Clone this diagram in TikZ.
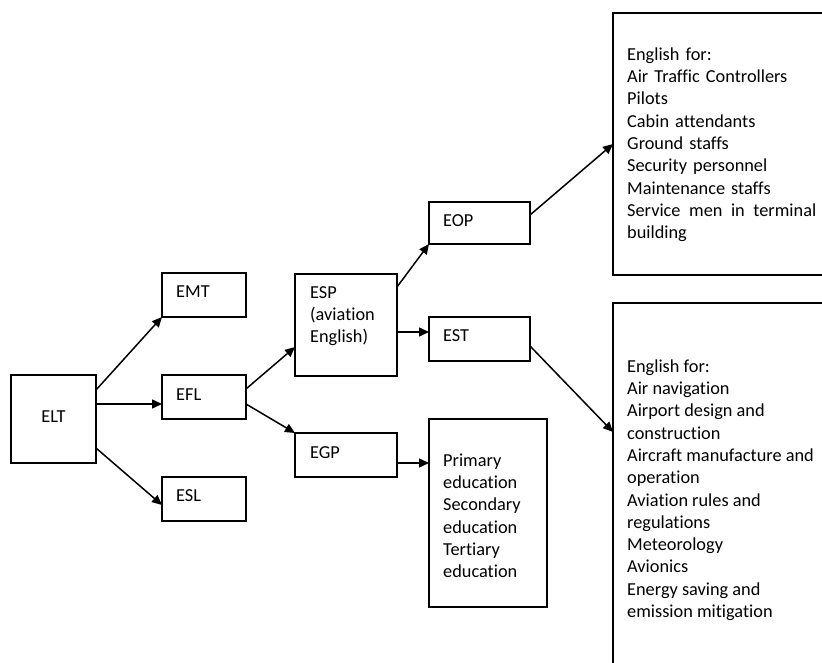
\documentclass[tikz,border=0pt]{standalone}
\usepackage{fontspec}
\setmainfont{Carlito}[Ligatures=NoCommon]
\usetikzlibrary{arrows.meta,calc}
\newcommand\dfs{\fontsize{18.3}{22.3}\selectfont}
\begin{document}
\begin{tikzpicture}[x=1pt,y=-1pt,
  box/.style={draw, line width=1.5pt, inner sep=0pt, outer sep=0pt, rectangle},
  lbl/.style={anchor=base west, inner sep=0pt, font=\dfs},
  mlbl/.style={anchor=north west, inner sep=0pt, align=left, font=\dfs},
  arr/.style={line width=1.5pt, -{Triangle[length=10pt,width=9pt]}}]
\useasboundingbox (0,0) rectangle (822,663);
\clip (0,0) rectangle (822,663);
% boxes
\node[box, minimum width=85, minimum height=88] (elt) at (53.5,419) {};
\node[box, minimum width=84, minimum height=44] (emt) at (204,295) {};
\node[box, minimum width=84, minimum height=44] (efl) at (204,397) {};
\node[box, minimum width=84, minimum height=44] (esl) at (204,499) {};
\node[box, minimum width=102, minimum height=102] (esp) at (346,325) {};
\node[box, minimum width=102, minimum height=44] (egp) at (346,455) {};
\node[box, minimum width=101, minimum height=42] (eop) at (479.5,223) {};
\node[box, minimum width=101, minimum height=44] (est) at (479.5,339) {};
\node[box, minimum width=118, minimum height=188] (prim) at (488,513) {};
\node[box, minimum width=217, minimum height=262] (ur) at (721.5,144) {};
\node[box, minimum width=217, minimum height=377] (lr) at (721.5,491.5) {};
% texts
\node[font=\dfs, anchor=base, inner sep=0pt] (eltt) at (53.5,422.3) {ELT};
\node[lbl] (emtt) at (176,298) {EMT};
\node[lbl] (eflt) at (176,400) {EFL};
\node[lbl] (eslt) at (176,501) {ESL};
\node[mlbl] (espt) at (310,282.4) {\strut ESP\\(aviation\\English)};
\node[lbl] (egpt) at (310,458) {EGP};
\node[lbl] (eopt) at (443,226) {EOP};
\node[lbl] (estt) at (443,341.5) {EST};
\node[mlbl] (primt) at (443,450.4) {\strut Primary\\education\\Secondary\\education\\Tertiary\\education};
\node[mlbl, text width=189pt] (urt) at (627,44.4) {\strut English for:\\Air Traffic Controllers\\Pilots\\Cabin attendants\\Ground staffs\\Security personnel\\Maintenance staffs\\Service\hfill men\hfill in\hfill terminal\\building};
\node[mlbl] (lrt) at (627,356.4) {\strut English for:\\Air navigation\\Airport design and\\construction\\Aircraft manufacture and\\operation\\Aviation rules and\\regulations\\Meteorology\\Avionics\\Energy saving and\\emission mitigation};
% anchor points
\coordinate (a1) at ([yshift=-29pt]elt.north east);
\coordinate (a2) at ([yshift=-58pt]esp.north east);
\coordinate (a3) at ([yshift=-30pt]egp.north east);
% connectors
\draw[arr] ([yshift=-15pt]elt.north east) -- (emt.south west);
\draw[arr] (a1) -- (a1 -| efl.west);
\draw[arr] ([yshift=-73pt]elt.north east) -- ([yshift=-28pt]esl.north west);
\draw[arr] ([yshift=-14pt]efl.north east) -- ([yshift=-73pt]esp.north west);
\draw[arr] ([yshift=-29pt]efl.north east) -- (egp.north west);
\draw[arr] ([yshift=-13pt]esp.north east) -- (eop.south west);
\draw[arr] (a2) -- (a2 -| est.west);
\draw[arr] (a3) -- (a3 -| prim.west);
\draw[arr] ([yshift=-13pt]eop.north east) -- (ur.west);
\draw[arr] ([yshift=-29pt]est.north east) -- ([yshift=-129pt]lr.north west);
\end{tikzpicture}
\end{document}
